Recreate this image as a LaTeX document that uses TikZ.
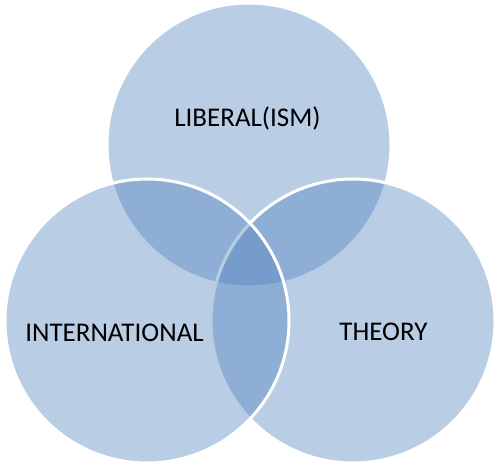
\documentclass[tikz,border=0pt]{standalone}
\usepackage{fontspec}
\setmainfont{Carlito}
\definecolor{vennblue}{RGB}{79,129,189}
\begin{document}
\begin{tikzpicture}[x=1pt,y=-1pt,
  venncircle/.style={circle, minimum size=284pt, inner sep=0pt, fill=vennblue, fill opacity=0.4, draw=white, draw opacity=1, line width=3pt},
  label/.style={font=\fontsize{27}{31}\selectfont, text=black, text opacity=1, inner sep=0pt}]
\useasboundingbox (0,0) rectangle (500,470);
\node[venncircle] (top) at (249,145) {};
\node[venncircle] (right) at (353,321) {};
\node[venncircle] (left) at (147,321) {};
\node[label] (ltop) at (247.5,118.5) {LIBERAL(ISM)};
\node[label] (lleft) at (114.5,333) {INTERNATIONAL};
\node[label] (lright) at (383.5,331.5) {THEORY};
\end{tikzpicture}
\end{document}
